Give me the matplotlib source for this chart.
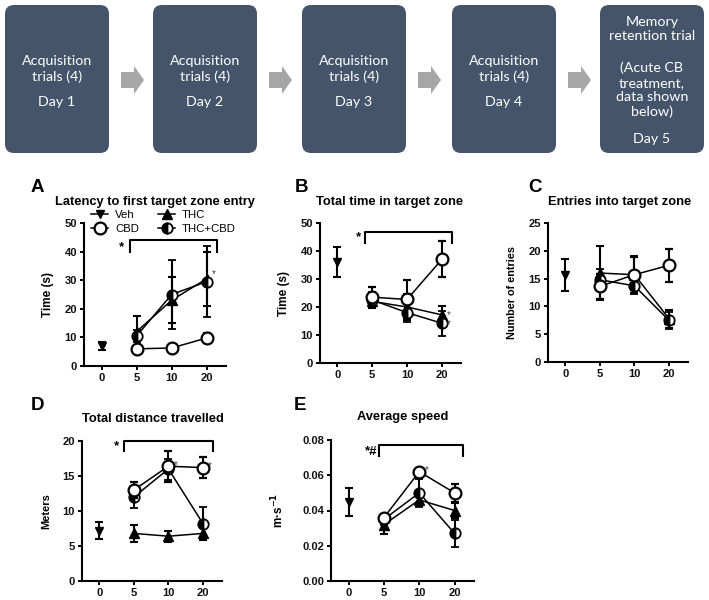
import matplotlib.pyplot as plt
import numpy as np
from matplotlib.lines import Line2D
from matplotlib.patches import FancyBboxPatch, Polygon

W = 709
H = 600
DPI = 100

plt.rcParams["font.family"] = ["Liberation Sans", "DejaVu Sans"]
plt.rcParams["font.weight"] = "bold"

# protocol boxes
box_top = ["Acquisition\ntrials (4)"] * 4 + ["Memory\nretention trial"]
box_mid = ["", "", "", "", "(Acute CB\ntreatment,\ndata shown\nbelow)"]
box_day = ["Day 1", "Day 2", "Day 3", "Day 4", "Day 5"]

doses = ["0", "5", "10", "20"]

# A: latency to first target zone entry (s)
lat_veh, lat_veh_err = 7.0, 1.3
lat_cbd = [6.0, 6.3, 9.8]
lat_cbd_err = [0.8, 1.0, 1.8]
lat_thc = [12.0, 23.0, 30.5]
lat_thc_err = [5.5, 8.0, 9.5]
lat_mix = [10.5, 25.0, 29.5]
lat_mix_err = [2.0, 12.0, 12.5]

# B: total time in target zone (s)
tt_veh, tt_veh_err = 36.0, 5.3
tt_cbd = [23.5, 22.7, 37.0]
tt_cbd_err = [3.5, 6.9, 6.4]
tt_thc = [22.0, 20.0, 17.2]
tt_thc_err = [2.5, 4.5, 3.0]
tt_mix = [22.5, 18.0, 14.2]
tt_mix_err = [3.0, 3.2, 4.4]

# C: entries into target zone
en_veh, en_veh_err = 15.6, 2.9
en_cbd = [13.6, 15.7, 17.4]
en_cbd_err = [2.3, 3.2, 3.0]
en_thc = [16.0, 15.7, 7.8]
en_thc_err = [4.8, 3.3, 1.6]
en_mix = [14.8, 13.7, 7.5]
en_mix_err = [2.0, 1.5, 1.5]

# D: total distance travelled (m)
di_veh, di_veh_err = 7.2, 1.2
di_cbd = [13.0, 16.4, 16.2]
di_cbd_err = [1.2, 2.2, 1.5]
di_thc = [6.8, 6.4, 6.8]
di_thc_err = [1.2, 0.8, 1.0]
di_mix = [12.0, 16.0, 8.2]
di_mix_err = [1.6, 1.5, 2.4]

# E: average speed (m/s)
sp_veh, sp_veh_err = 0.045, 0.008
sp_cbd = [0.036, 0.062, 0.050]
sp_cbd_err = [0.002, 0.002, 0.005]
sp_thc = [0.032, 0.046, 0.040]
sp_thc_err = [0.0055, 0.003, 0.004]
sp_mix = [0.035, 0.050, 0.027]
sp_mix_err = [0.003, 0.008, 0.0075]

STYLE = {
    "veh": dict(marker="v", ms=5.5, mfc="black", mec="black"),
    "cbd": dict(marker="o", ms=8.5, mfc="white", mec="black", mew=1.6),
    "thc": dict(marker="^", ms=7, mfc="black", mec="black"),
    "mix": dict(marker="o", ms=7.5, fillstyle="left", mfc="black",
                mfcalt="white", mec="black", mew=1.3),
}


def rect(x0, y0, x1, y1):
    return [x0 / W, 1 - y1 / H, (x1 - x0) / W, (y1 - y0) / H]


def draw_panel(ax, veh, veh_err, cbd, cbd_err, thc, thc_err, mix, mix_err):
    x = np.arange(1, 4)
    eb = dict(color="black", lw=1.1, elinewidth=1.5, capsize=3, capthick=1.5,
              clip_on=False)
    ax.errorbar([0], [veh], yerr=[veh_err], zorder=3, **eb, **STYLE["veh"])
    ax.errorbar(x, thc, yerr=thc_err, zorder=3, **eb, **STYLE["thc"])
    ax.errorbar(x, mix, yerr=mix_err, zorder=4, **eb, **STYLE["mix"])
    ax.errorbar(x, cbd, yerr=cbd_err, zorder=5, **eb, **STYLE["cbd"])
    ax.set_xlim(-0.5, 3.55)
    ax.set_xticks(range(4))
    ax.set_xticklabels(doses)
    for s in ["top", "right"]:
        ax.spines[s].set_visible(False)
    for s in ["left", "bottom"]:
        ax.spines[s].set_linewidth(1.5)
    ax.tick_params(direction="out", length=3, width=1.4, labelsize=8,
                   pad=2)


def finish(ax):
    for lab in ax.get_xticklabels() + ax.get_yticklabels():
        lab.set_fontweight("bold")
        lab.set_color("#111111")


def bracket(ax, x0, x1, ytop, ytip, label, lx, ly):
    ax.plot([x0, x0, x1, x1], [ytip, ytop, ytop, ytip], color="black",
            lw=1.5, clip_on=False, zorder=6)
    ax.text(lx, ly, label, ha="center", va="center", fontsize=9.5,
            fontweight="bold")


def star(ax, x, y):
    ax.text(x, y, "*", ha="left", va="center", fontsize=7,
            fontweight="normal", color="#444444")


fig = plt.figure(figsize=(W / DPI, H / DPI), dpi=DPI)

# protocol strip
bg = fig.add_axes([0, 0, 1, 1])
bg.set_xlim(0, W)
bg.set_ylim(H, 0)
bg.axis("off")
lefts = [5, 153, 302, 452, 600]
bw = 104
for i, x0 in enumerate(lefts):
    bg.add_patch(FancyBboxPatch((x0, 5), bw, 148,
                                boxstyle="round,pad=0,rounding_size=9",
                                fc="#44546A", ec="none"))
    cx = x0 + bw / 2
    tf = dict(ha="center", va="center", color="white", fontsize=10.3,
              fontweight="normal", family=["Lato", "DejaVu Sans"],
              linespacing=1.25)
    if box_mid[i]:
        bg.text(cx, 29, box_top[i], **tf)
        bg.text(cx, 90, box_mid[i], **tf)
        bg.text(cx, 139, box_day[i], **tf)
    else:
        bg.text(cx, 69, box_top[i], **tf)
        bg.text(cx, 102, box_day[i], **tf)
    if i < 4:
        a0 = x0 + bw + 12
        bg.add_patch(Polygon([(a0, 72), (a0 + 13, 72), (a0 + 13, 66),
                              (a0 + 23, 80), (a0 + 13, 94), (a0 + 13, 88),
                              (a0, 88)], closed=True, fc="#A6A6A6",
                             ec="none"))

# panel A
axA = fig.add_axes(rect(84, 223, 226, 366))
draw_panel(axA, lat_veh, lat_veh_err, lat_cbd, lat_cbd_err, lat_thc,
           lat_thc_err, lat_mix, lat_mix_err)
axA.set_ylim(0, 50)
axA.set_yticks(range(0, 51, 10))
axA.set_ylabel("Time (s)", fontsize=8.5, fontweight="bold")
axA.yaxis.set_label_coords(-0.21, 0.5)
bracket(axA, 0.8, 3.28, 43.9, 40, "*", 0.58, 41.5)
star(axA, 3.15, 32)
finish(axA)
handles = [Line2D([], [], color="black", lw=1.1, **STYLE[k])
           for k in ["veh", "cbd", "thc", "mix"]]
fig.legend(handles, ["Veh", "CBD", "THC", "THC+CBD"], ncol=2,
           loc="upper left", bbox_to_anchor=(91 / W, 1 - 210 / H),
           frameon=False, prop=dict(size=8.2, weight="normal"),
           handlelength=1.5, handletextpad=0.6, columnspacing=1.7,
           labelspacing=0.35, borderpad=0, borderaxespad=0)

# panel B
axB = fig.add_axes(rect(320, 223, 461, 363))
draw_panel(axB, tt_veh, tt_veh_err, tt_cbd, tt_cbd_err, tt_thc, tt_thc_err,
           tt_mix, tt_mix_err)
axB.set_ylim(0, 50)
axB.set_yticks(range(0, 51, 10))
axB.set_ylabel("Time (s)", fontsize=8.5, fontweight="bold")
axB.yaxis.set_label_coords(-0.21, 0.5)
bracket(axB, 0.8, 3.28, 46.8, 42.9, "*", 0.6, 44.8)
star(axB, 2.12, 16.5)
star(axB, 3.15, 17.2)
star(axB, 3.15, 13.8)
finish(axB)

# panel C
axC = fig.add_axes(rect(548, 223, 688, 362))
draw_panel(axC, en_veh, en_veh_err, en_cbd, en_cbd_err, en_thc, en_thc_err,
           en_mix, en_mix_err)
axC.set_ylim(0, 25)
axC.set_yticks(range(0, 26, 5))
axC.set_ylabel("Number of entries", fontsize=7.8, fontweight="bold")
axC.yaxis.set_label_coords(-0.22, 0.5)
finish(axC)

# panel D
axD = fig.add_axes(rect(82, 441, 222, 581))
draw_panel(axD, di_veh, di_veh_err, di_cbd, di_cbd_err, di_thc, di_thc_err,
           di_mix, di_mix_err)
axD.set_ylim(0, 20)
axD.set_yticks(range(0, 21, 5))
axD.set_ylabel("Meters", fontsize=8, fontweight="bold")
axD.yaxis.set_label_coords(-0.22, 0.5)
bracket(axD, 0.72, 3.28, 20, 18.6, "*", 0.5, 19.3)
star(axD, 2.15, 16.6)
star(axD, 3.15, 16.4)
finish(axD)

# panel E
axE = fig.add_axes(rect(331, 440, 474, 581))
draw_panel(axE, sp_veh, sp_veh_err, sp_cbd, sp_cbd_err, sp_thc, sp_thc_err,
           sp_mix, sp_mix_err)
axE.set_ylim(0, 0.08)
axE.set_yticks(np.arange(0, 0.081, 0.02))
axE.yaxis.set_major_formatter(plt.FormatStrFormatter("%.2f"))
axE.set_ylabel("m·s$^{\\mathbf{-1}}$", fontsize=8.5, fontweight="bold")
axE.yaxis.set_label_coords(-0.31, 0.5)
bracket(axE, 0.86, 3.23, 0.0772, 0.0709, "*#", 0.64, 0.0734)
star(axE, 2.15, 0.063)
finish(axE)

# titles and panel letters
titles = [
    (155, 202, "Latency to first target zone entry"),
    (390, 202, "Total time in target zone"),
    (620, 202, "Entries into target zone"),
    (153, 419, "Total distance travelled"),
    (403, 417, "Average speed"),
]
for x, y, t in titles:
    bg.text(x, y, t, ha="center", va="center", fontsize=9.3,
            fontweight="bold")
for x, y, t in [(37, 187, "A"), (302, 188, "B"), (535, 188, "C"),
                (37, 405, "D"), (300, 405, "E")]:
    bg.text(x, y, t, ha="center", va="center", fontsize=13.5,
            fontweight="bold")

fig.savefig("out.png", dpi=DPI)
